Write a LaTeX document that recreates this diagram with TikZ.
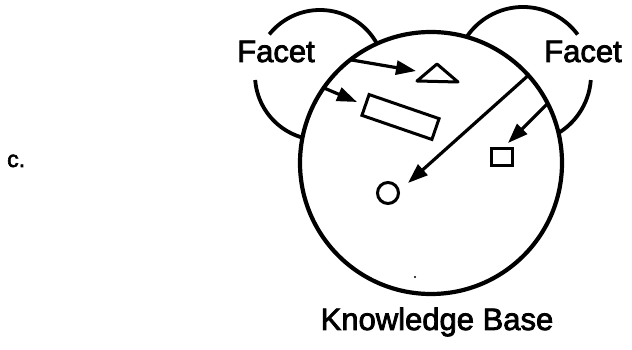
\documentclass[tikz,border=0pt]{standalone}
\usepackage{fontspec}
\setmainfont[FakeBold=2.5,AutoFakeBold=2.5]{Liberation Sans}
\usetikzlibrary{arrows.meta}
\begin{document}
\begin{tikzpicture}[x=1pt,y=1pt,
  facetarc/.style={line width=3.8pt},
  shapeline/.style={draw,line width=3pt,inner sep=0pt,outer sep=0pt},
  ptr/.style={line width=3.2pt,-{Triangle[length=20pt,width=14pt]}},
  lbl/.style={inner sep=0pt,font=\fontsize{31}{31}\selectfont\bfseries}]
\useasboundingbox (0,0) rectangle (632,350);
% facet arcs (inner parts hidden by knowledge base)
\draw[facetarc] (320,275) ++(141.3:65) arc[start angle=141.3,end angle=0,radius=65];
\draw[facetarc] (320,275) ++(184.4:65) arc[start angle=184.4,end angle=300,radius=65];
\draw[facetarc] (523,275) ++(170:68) arc[start angle=170,end angle=36.5,radius=68];
\draw[facetarc] (523,275) ++(-4.3:68) arc[start angle=-4.3,end angle=-100,radius=68];
% knowledge base
\node[circle,draw,fill=white,line width=4.2pt,minimum size=262pt,inner sep=0pt,outer sep=0pt] (kb) at (431,187) {};
% items
\draw[line width=3pt,line join=round] (417,269) coordinate (tl) -- (437,286) coordinate (tt) -- (458,268) coordinate (tr) -- cycle;
\node[shapeline,rectangle,minimum width=74pt,minimum height=22pt,rotate=-19] (rect) at (400.5,233) {};
\node[shapeline,rectangle,minimum width=21pt,minimum height=17pt] (sq) at (502,193) {};
\node[shapeline,circle,minimum size=21pt] (dotc) at (388,157) {};
\coordinate (a1) at (416,279);
\coordinate (a2) at (357,248);
\coordinate (a3) at (408,167);
\coordinate (a4) at (508,207);
\draw[ptr] (kb.128) -- (a1);
\draw[ptr] (kb.145) -- (a2);
\draw[ptr] (kb.42) -- (a3);
\draw[ptr] (kb.27) -- (a4);
\fill (415,73) circle (1.2pt);
% labels
\node[lbl,anchor=base] (f1) at (276,288) {Facet};
\node[lbl,anchor=base] (f2) at (583,288) {Facet};
\node[lbl,anchor=base] (kbl) at (437,20) {Knowledge Base};
\node[inner sep=0pt,anchor=base west,font=\fontsize{23}{23}\selectfont\bfseries] (c) at (7,183) {c.};
\end{tikzpicture}
\end{document}
